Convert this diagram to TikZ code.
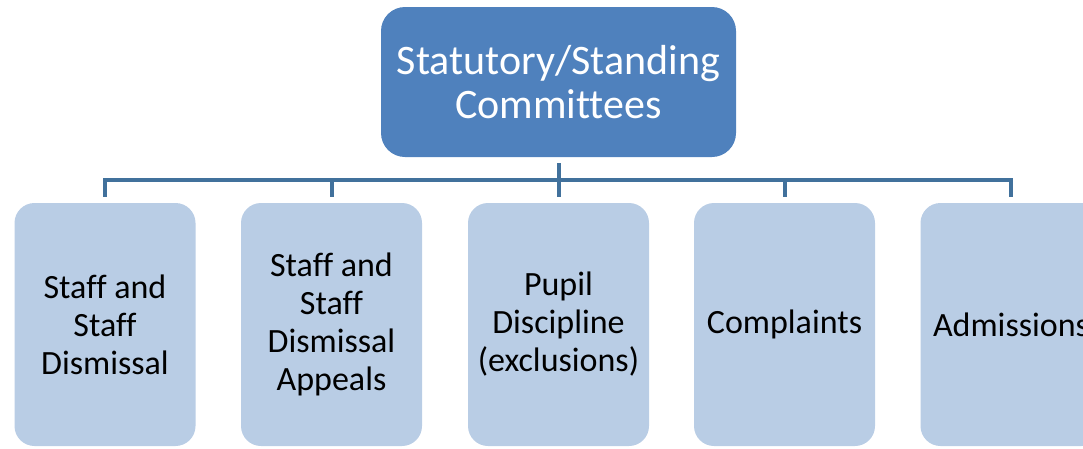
\documentclass[tikz,border=0pt]{standalone}
\usepackage{fontspec}
\setmainfont{Carlito}[Ligatures=NoCommon]
\usetikzlibrary{positioning,calc}
\definecolor{headblue}{HTML}{4F81BD}
\definecolor{memberblue}{HTML}{B9CDE5}
\definecolor{linkblue}{HTML}{41719C}
\tikzset{
    head/.style = {
        shape=rectangle,
        fill=headblue,
        rounded corners=24pt,
        minimum width=355pt,
        minimum height=150pt,
        text=white,
        align=center,
        font=\fontsize{42}{44}\selectfont
    },
    member/.style = {
        shape=rectangle,
        fill=memberblue,
        rounded corners=20pt,
        minimum width=181pt,
        minimum height=243pt,
        align=center,
        font=\fontsize{34}{38}\selectfont
    },
    link/.style = {
        draw=linkblue,
        line width=4pt
    },
}

\begin{document}
\begin{tikzpicture}[x=1pt,y=-1pt]
            \path[use as bounding box, clip] (0,0) rectangle (1083,448);

            \node[head] (committees) at (558.5,82) {Statutory/Standing\\Committees};
            \node[member] (staff) at (105,324.5) {Staff and\\Staff\\Dismissal};
            \node[member] (appeals) at (331.5,324.5) {Staff and\\Staff\\Dismissal\\Appeals};
            \node[member] (pupil) at (558.5,324.5) {Pupil\\Discipline\\(exclusions)};
            \node[member] (complaints) at (784.5,324.5) {Complaints};
            \node[member] (admissions) at (1011,324.5) {Admissions};

            \coordinate (bus) at (558.5,180);
            \draw[link] ([yshift=-6pt]committees.south) -- (bus);
            \draw[link] ([yshift=6pt]staff.north) |- (bus) -| ([yshift=6pt]admissions.north);
            \foreach \n in {appeals,pupil,complaints}
                \draw[link] ([yshift=6pt]\n.north) -- (\n.north |- bus);

        \end{tikzpicture}
\end{document}
